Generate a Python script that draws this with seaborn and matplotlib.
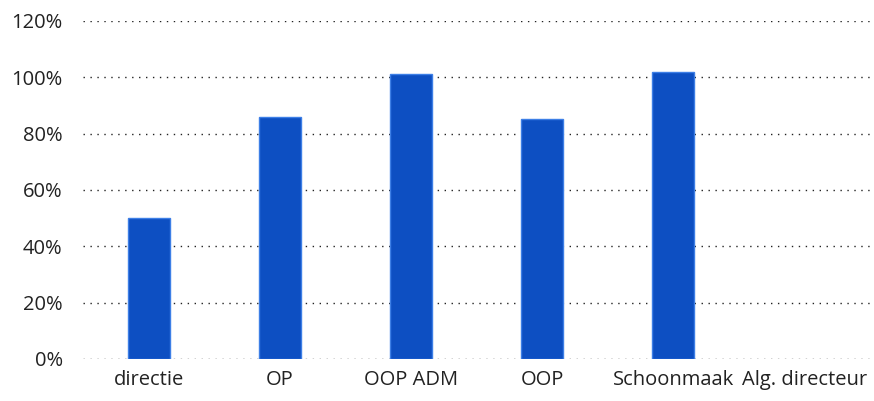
import matplotlib
matplotlib.use("Agg")
import matplotlib.pyplot as plt
import seaborn as sns
import pandas as pd
from matplotlib.ticker import PercentFormatter

# values
categories = ["directie", "OP", "OOP ADM", "OOP", "Schoonmaak", "Alg. directeur"]
percentages = [0.50, 0.86, 1.01, 0.85, 1.02, 0.0]
y_ticks = [0.0, 0.2, 0.4, 0.6, 0.8, 1.0, 1.2]

df = pd.DataFrame({"Afdeling": categories, "Percentage": percentages})

sns.set_style("white")
plt.rcParams["font.family"] = ["Open Sans", "DejaVu Sans"]

fig = plt.figure(figsize=(8.74, 4.01), dpi=100)
ax = fig.add_axes([0.0955, 0.105, 0.9, 0.843])

sns.barplot(data=df, x="Afdeling", y="Percentage", ax=ax, color="#0d4fc2",
            width=0.32, edgecolor="#3d7fe6", linewidth=1.0, saturation=1, zorder=3)

# a zero bar should not leave an edge line behind
for p in ax.patches:
    if p.get_height() == 0:
        p.set_visible(False)

ax.set_ylim(0, 1.2)
ax.set_yticks(y_ticks)
ax.yaxis.set_major_formatter(PercentFormatter(1.0, decimals=0))
ax.grid(axis="y", color="#222222", linestyle=(0, (1, 4)), linewidth=1.0, zorder=0)
ax.set_xlabel("")
ax.set_ylabel("")
ax.tick_params(axis="both", labelsize=14.5, colors="#222222", length=0)
ax.tick_params(axis="x", pad=8)
ax.tick_params(axis="y", pad=15)
for s in ax.spines.values():
    s.set_visible(False)

fig.savefig("out.png", dpi=100)
